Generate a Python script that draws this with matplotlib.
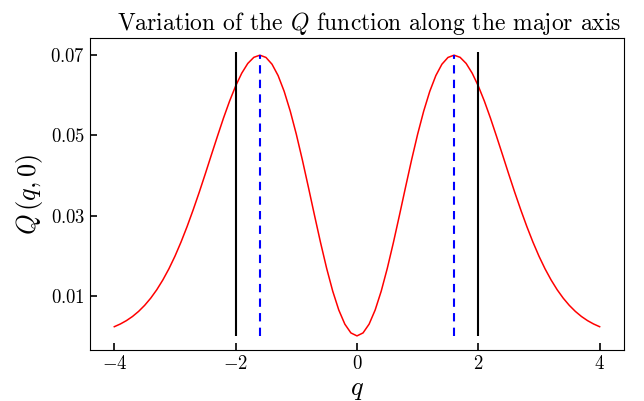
import matplotlib
matplotlib.use("Agg")
import matplotlib.pyplot as plt

# Q(q, 0) at q = 0, 0.1, ..., 4.0 (curve is symmetric)
Q_POS = [0.0, 0.00074, 0.00293, 0.00646, 0.01117, 0.01685, 0.02324, 0.03006,
         0.03703, 0.04386, 0.05028, 0.05604, 0.06096, 0.06489, 0.06772, 0.06941,
         0.06998, 0.06944, 0.06791, 0.06547, 0.06229, 0.05852, 0.05430, 0.04976,
         0.04511, 0.04040, 0.03581, 0.03142, 0.02726, 0.02340, 0.01987, 0.01672,
         0.01394, 0.01150, 0.00940, 0.00761, 0.00610, 0.00484, 0.00381, 0.00297,
         0.00229]
Q_STEPS = [i / 10 for i in range(len(Q_POS))]

QS = [-s for s in Q_STEPS[:0:-1]] + Q_STEPS
QV = Q_POS[:0:-1] + Q_POS

BLACK_X = [-2.0, 2.0]
BLACK_TOP = 0.0707
BLUE_X = [-1.6, 1.6]
BLUE_TOP = 0.0700

XTICKS = [-4, -2, 0, 2, 4]
YTICKS = [0.01, 0.03, 0.05, 0.07]

plt.rcParams.update({
    "font.family": "serif",
    "font.serif": ["cmr10"],
    "mathtext.fontset": "cm",
    "axes.formatter.use_mathtext": True,
    "axes.unicode_minus": True,
})

fig = plt.figure(figsize=(6.44, 4.01), dpi=100)
ax = fig.add_axes([0.1398, 0.127, 0.829, 0.778])

ax.plot(QS, QV, color="red", lw=1.1)
for x in BLACK_X:
    ax.vlines(x, 0, BLACK_TOP, color="black", lw=1.5)
for x in BLUE_X:
    ax.vlines(x, 0, BLUE_TOP, color="blue", lw=1.5, linestyles=(0, (4, 3)))

ax.set_xticks(XTICKS)
ax.set_xticklabels([f"${t}$" if t >= 0 else f"$-{abs(t)}$" for t in XTICKS])
ax.set_yticks(YTICKS)
ax.set_yticklabels([f"${t:.2f}$" for t in YTICKS])
ax.tick_params(direction="in", labelsize=13.5, length=5, width=1.2)

ax.set_xlabel("$q$", fontsize=19)
ax.set_ylabel(r"$Q\,(q,0)$", fontsize=19)
ax.set_title("Variation of the $Q$ function along the major axis", fontsize=17,
             x=0.522)

fig.savefig("out.png", dpi=100)
